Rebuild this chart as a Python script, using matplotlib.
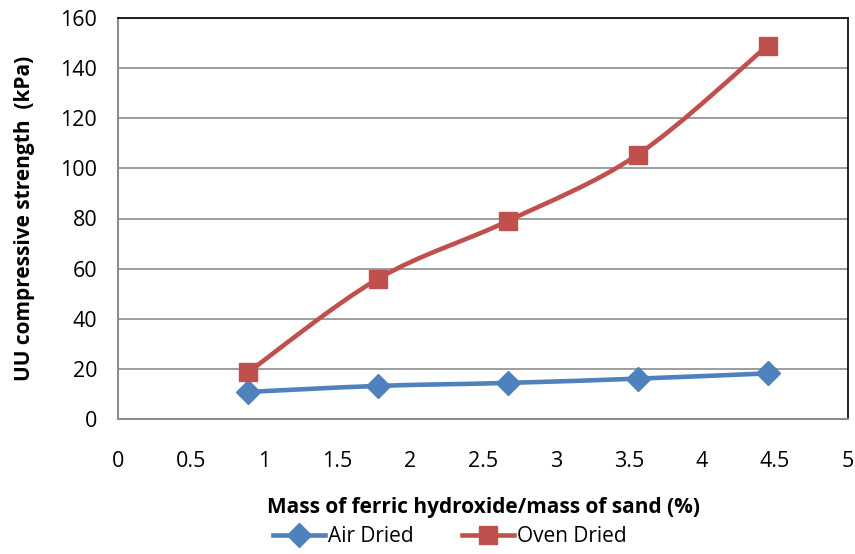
import matplotlib
matplotlib.use("Agg")
import matplotlib.pyplot as plt
from matplotlib.path import Path
from matplotlib.patches import PathPatch
from matplotlib.lines import Line2D

plt.rcParams['font.family'] = ['Open Sans', 'DejaVu Sans']

mass_ratio = [0.89, 1.78, 2.67, 3.56, 4.45]
air_dried = [10.8, 13.2, 14.4, 16.1, 18.2]
oven_dried = [18.6, 55.9, 79.0, 105.5, 149.0]

BLUE = "#4F81BD"
RED = "#C0504D"


def smooth_path(xs, ys):
    # Excel-like smoothed line: cubic Bezier through every point
    pts = list(zip(xs, ys))
    verts = [pts[0]]
    codes = [Path.MOVETO]
    n = len(pts)
    for i in range(n - 1):
        p0 = pts[i - 1] if i > 0 else pts[i]
        p1 = pts[i]
        p2 = pts[i + 1]
        p3 = pts[i + 2] if i + 2 < n else pts[i + 1]
        c1 = (p1[0] + (p2[0] - p0[0]) / 6, p1[1] + (p2[1] - p0[1]) / 6)
        c2 = (p2[0] - (p3[0] - p1[0]) / 6, p2[1] - (p3[1] - p1[1]) / 6)
        verts += [c1, c2, p2]
        codes += [Path.CURVE4] * 3
    return Path(verts, codes)


fig = plt.figure(figsize=(8.55, 5.54), dpi=100)
ax = fig.add_axes([118 / 855, 1 - 419 / 554, 730 / 855, 401 / 554])

for ys, color, marker, ms in [(air_dried, BLUE, "D", 12), (oven_dried, RED, "s", 13)]:
    ax.add_patch(PathPatch(smooth_path(mass_ratio, ys), fill=False, edgecolor=color,
                           linewidth=3.3, capstyle="round", zorder=3))
    ax.plot(mass_ratio, ys, linestyle="none", marker=marker, markersize=ms,
            color=color, zorder=4)

ax.set_xlim(0, 5)
ax.set_ylim(0, 160)
ax.set_xticks([0, 0.5, 1, 1.5, 2, 2.5, 3, 3.5, 4, 4.5, 5])
ax.set_xticklabels(["0", "0.5", "1", "1.5", "2", "2.5", "3", "3.5", "4", "4.5", "5"])
ax.set_yticks(range(0, 161, 20))
ax.tick_params(length=0, labelsize=15.5, colors="black")
ax.tick_params(axis="x", pad=23)
ax.tick_params(axis="y", pad=15)
ax.grid(True, axis="y", color="#8c8c8c", linewidth=1.2)
ax.set_axisbelow(True)

for side in ["top", "right"]:
    ax.spines[side].set_color("black")
    ax.spines[side].set_linewidth(1.2)
for side in ["left", "bottom"]:
    ax.spines[side].set_color("#8c8c8c")
    ax.spines[side].set_linewidth(1.5)

fig.text(483 / 855, 1 - 508 / 554, "Mass of ferric hydroxide/mass of sand (%)",
         ha="center", va="center", fontsize=15, fontweight="bold")
fig.text(25 / 855, 1 - 218 / 554, "UU compressive strength  (kPa)", rotation=90,
         ha="center", va="center", fontsize=15, fontweight="bold")

handles = [
    Line2D([], [], color=BLUE, linewidth=3.3, marker="D", markersize=12),
    Line2D([], [], color=RED, linewidth=3.3, marker="s", markersize=13),
]
fig.legend(handles, ["Air Dried", "Oven Dried"], loc="center", ncol=2,
           bbox_to_anchor=(450 / 855, 1 - 537 / 554), frameon=False,
           fontsize=15, handlelength=2.5, handletextpad=0.15, columnspacing=2.3)

fig.savefig("out.png", dpi=100)
